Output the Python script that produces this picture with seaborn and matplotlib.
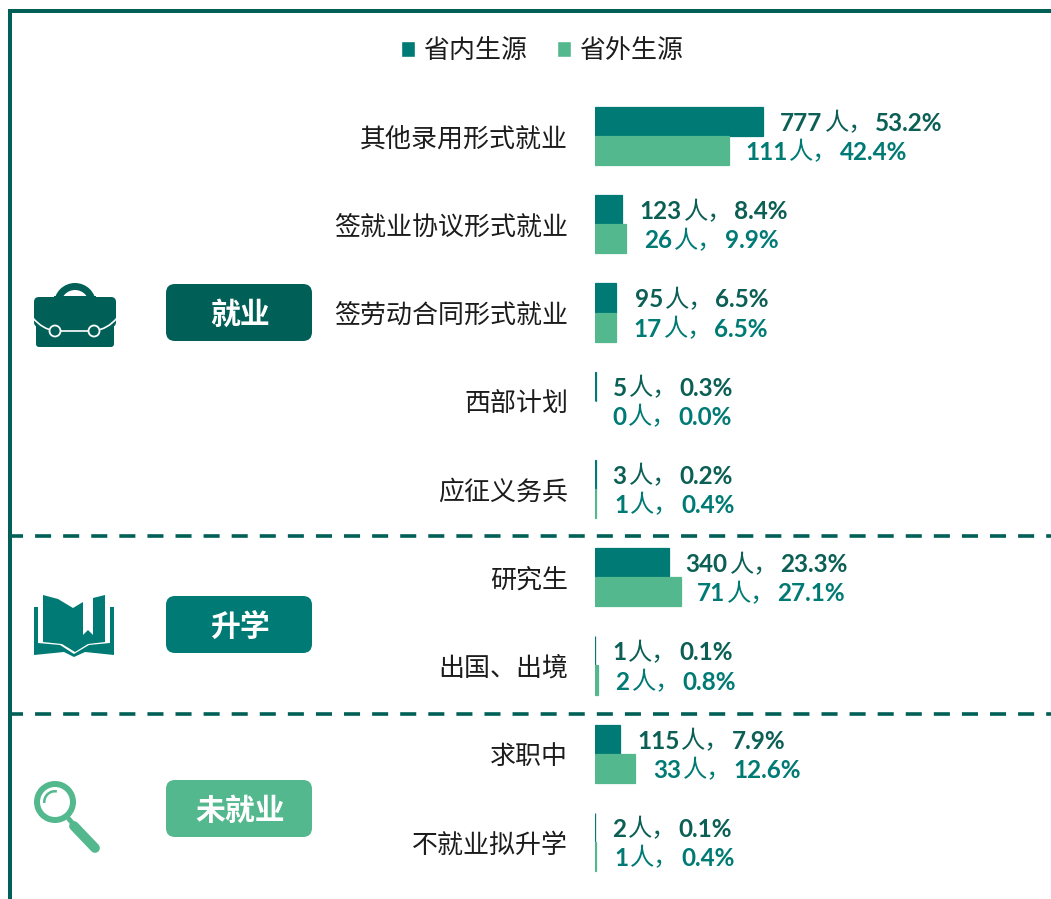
import pandas as pd
import matplotlib.pyplot as plt
import seaborn as sns
from matplotlib.patches import Circle, FancyBboxPatch, PathPatch, Polygon, Rectangle, Wedge
from matplotlib.path import Path

categories = ['其他录用形式就业', '签就业协议形式就业', '签劳动合同形式就业', '西部计划', '应征义务兵',
              '研究生', '出国、出境', '求职中', '不就业拟升学']
inner_counts = [777, 123, 95, 5, 3, 340, 1, 115, 2]
outer_counts = [111, 26, 17, 0, 1, 71, 2, 33, 1]
inner_pct = [53.2, 8.4, 6.5, 0.3, 0.2, 23.3, 0.1, 7.9, 0.1]
outer_pct = [42.4, 9.9, 6.5, 0.0, 0.4, 27.1, 0.8, 12.6, 0.4]
series_names = ['省内生源', '省外生源']
group_names = ['就业', '升学', '未就业']

DEEP = '#005F56'
TEAL = '#007A74'
GREEN = '#53B88D'
W, H = 1051, 899

# gap between bar end and its label, in pixels (the original labels were hand placed)
inner_gap = [17, 18, 19, 17, 17, 17, 17, 17, 17]
outer_gap = [16, 18, 18, 17, 18, 16, 18, 18, 18]

sns.set_theme(style='white')
plt.rcParams['font.family'] = ['Noto Sans CJK SC', 'DejaVu Sans']

df = pd.DataFrame({
    'category': categories * 2,
    'pct': inner_pct + outer_pct,
    'source': [series_names[0]] * 9 + [series_names[1]] * 9,
})

fig = plt.figure(figsize=(W / 100, H / 100), dpi=100, facecolor='white')

# overlay in pixel coordinates for frame, pills, icons
over = fig.add_axes([0, 0, 1, 1], zorder=1)
over.set_xlim(0, W)
over.set_ylim(H, 0)
over.axis('off')

# bars: 3.16 px per percent, 88.25 px per category
top, bottom = 91.9, 886.1
ax = fig.add_axes([595 / W, 1 - bottom / H, (W - 595) / W, (bottom - top) / H], zorder=2)
ax.patch.set_alpha(0)
sns.barplot(data=df, y='category', x='pct', hue='source', palette=[TEAL, GREEN],
            width=0.66, gap=0, saturation=1, ax=ax)
ax.set_xlim(0, (W - 595) / 3.16)
ax.set_xlabel('')
ax.set_ylabel('')
ax.set_xticks([])
sns.despine(ax=ax, left=True, bottom=True)
ax.tick_params(axis='y', length=0, pad=27 * 0.72, labelsize=18.7, labelcolor='#1c1c1c')

sns.move_legend(ax, 'center', bbox_to_anchor=(542 / W, 1 - 50.5 / H), bbox_transform=fig.transFigure,
                ncols=2, frameon=False, title=None, fontsize=18.7, handlelength=0.55, handleheight=0.55,
                handletextpad=0.3, columnspacing=1.15)
for t in ax.get_legend().get_texts():
    t.set_color('#1c1c1c')

# hairline edge so that very small shares still show, as in the original
for bar in ax.patches:
    if bar.get_width() > 0:
        bar.set_edgecolor(bar.get_facecolor())
        bar.set_linewidth(0.9)

renderer = fig.canvas.get_renderer()


def draw_label(bar, gap, count, pct, color):
    """Bold number, light 人， and bold percent chained from the bar end."""
    disp = ax.transData.transform((bar.get_width(), bar.get_y() + bar.get_height() / 2))
    x, y = over.transData.inverted().transform(disp)
    x += gap
    parts = [(str(count), 'bold', 17.5, 'Lato', 2), ('人，', 'normal', 17.5, 'Noto Sans CJK SC', 2),
             (f'{pct:.1f}%', 'bold', 17.5, 'Lato', 0)]
    for text, weight, size, family, pad in parts:
        t = over.text(x, y + 2, text, fontweight=weight, fontsize=size, color=color, va='center', ha='left',
                      family=family, zorder=5)
        box = t.get_window_extent(renderer)
        x += box.width + pad


n = len(categories)
for i in range(n):
    draw_label(ax.patches[i], inner_gap[i], inner_counts[i], inner_pct[i], '#0B5F55')
    draw_label(ax.patches[i + n], outer_gap[i], outer_counts[i], outer_pct[i], TEAL)

# frame and separators
over.add_patch(Rectangle((8, 9), 4, H, color=DEEP, lw=0))
over.add_patch(Rectangle((8, 9), W, 4, color=DEEP, lw=0))
for y in [535.5, 714]:
    over.plot([12, W], [y, y], color=DEEP, lw=2.6, linestyle=(5 / 3.6, (16 / 3.6, 12 / 3.6)),
              dash_capstyle='butt')

# category pills
for name, y, color in zip(group_names, [284, 596, 780], [DEEP, TEAL, GREEN]):
    over.add_patch(FancyBboxPatch((175, y + 9), 128, 39, boxstyle='round,pad=9,rounding_size=9',
                                  fc=color, ec='none'))
    over.text(240, y + 31, name, color='white', fontsize=21.5, fontweight='bold', ha='center', va='center')

# briefcase icon
over.add_patch(Wedge((75, 304), 21, 180, 360, width=7, fc=DEEP, ec='none'))
over.add_patch(Rectangle((54, 296), 42, 8, fc=DEEP, ec='none'))
over.add_patch(FancyBboxPatch((39, 302), 72, 20, boxstyle='round,pad=5,rounding_size=5', fc=DEEP, ec='none'))
over.add_patch(FancyBboxPatch((39, 322), 72, 22, boxstyle='round,pad=3,rounding_size=3', fc=DEEP, ec='none'))
strap = Path([(33, 318), (42, 329), (55, 331), (94, 331), (108, 329), (117, 318)],
             [Path.MOVETO, Path.CURVE3, Path.CURVE3, Path.LINETO, Path.CURVE3, Path.CURVE3])
over.add_patch(PathPatch(strap, fc='none', ec='white', lw=1.2))
for cx in [55, 94]:
    over.add_patch(Circle((cx, 331), 5.5, fc=DEEP, ec='white', lw=1.3))

# book icon
page = [(43, 595), (58, 599), (73, 608), (83, 602), (83, 635), (88, 630), (93, 635), (93, 598), (105, 595),
        (105, 642), (88, 644), (75, 652), (62, 644), (43, 642)]
cover = [(34, 607), (38, 607), (38, 643), (60, 645), (74, 654), (89, 645), (110, 643), (110, 607), (114, 607),
         (114, 655), (85, 652), (74, 657), (64, 652), (34, 655)]
over.add_patch(Polygon(page, fc=TEAL, ec='none'))
over.add_patch(Polygon(cover, fc=TEAL, ec='none'))

# magnifier icon
over.add_patch(Wedge((55, 802), 21, 0, 360, width=6, fc=GREEN, ec='none'))
over.add_patch(Wedge((55, 802), 12, 175, 280, width=2.5, fc=GREEN, ec='none'))
over.plot([68, 75], [818, 826], color=GREEN, lw=3.5, solid_capstyle='butt')
over.plot([74, 95], [826, 848], color=GREEN, lw=7, solid_capstyle='round')

fig.savefig('out.png', dpi=100)
